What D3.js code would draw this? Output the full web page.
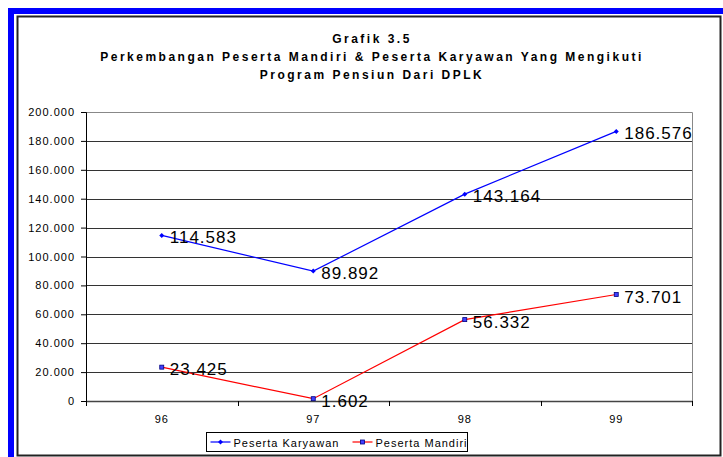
<!DOCTYPE html>
<html>
<head>
<meta charset="utf-8">
<script src="https://cdn.jsdelivr.net/npm/d3@7"></script>
<style>
  body { margin: 0; background: #fff; }
  text { font-family: "Liberation Sans", Arial, sans-serif; fill: #000; }
</style>
</head>
<body>
<div id="chart"></div>
<script>
// data
var years = ["96", "97", "98", "99"];
var karyawan = [114583, 89892, 143164, 186576];
var mandiri = [23425, 1602, 56332, 73701];
var yTicks = [0, 20000, 40000, 60000, 80000, 100000, 120000, 140000, 160000, 180000, 200000];
var titleLines = ["Grafik 3.5",
  "Perkembangan Peserta Mandiri & Peserta Karyawan Yang Mengikuti",
  "Program Pensiun Dari DPLK"];

var W = 723, H = 457;
var margin = {top: 112, right: 31, bottom: 56, left: 86};
var width = W - margin.left - margin.right;
var height = H - margin.top - margin.bottom;

var fmt = function(v) {
  if (v === 0) return "0";
  return d3.format(",.0f")(v).replace(/,/g, ".");
};

var svg = d3.select("#chart").append("svg")
  .attr("width", W)
  .attr("height", H);

// blue frame + chart border
svg.append("rect").attr("x", 8).attr("y", 8).attr("width", W - 8).attr("height", 6).attr("fill", "#0000ff");
svg.append("rect").attr("x", 8).attr("y", 8).attr("width", 6).attr("height", H - 8).attr("fill", "#0000ff");
svg.append("rect")
  .attr("x", 17.5).attr("y", 16.5)
  .attr("width", 703).attr("height", 439)
  .attr("fill", "none")
  .attr("stroke", "#222")
  .attr("stroke-width", 2);

// title
svg.append("g").selectAll("text")
  .data(titleLines)
  .enter()
  .append("text")
  .attr("x", 372)
  .attr("y", (d, i) => 43 + i * 18)
  .attr("text-anchor", "middle")
  .style("font-size", "12px")
  .style("font-weight", "bold")
  .style("letter-spacing", "2.5px")
  .text(d => d);

var chartGroup = svg.append("g")
  .attr("transform", `translate(${margin.left}, ${margin.top})`);

var xBand = d3.scaleBand()
  .domain(years)
  .range([0, width]);

var yLinearScale = d3.scaleLinear()
  .domain([0, 200000])
  .range([height, 0]);

var xc = d => xBand(d) + xBand.bandwidth() / 2;

// gridlines
chartGroup.append("g")
  .selectAll("line")
  .data(yTicks.slice(1))
  .enter()
  .append("line")
  .attr("x1", 0)
  .attr("x2", width)
  .attr("y1", d => Math.round(yLinearScale(d)) + 0.5)
  .attr("y2", d => Math.round(yLinearScale(d)) + 0.5)
  .attr("stroke", "#333")
  .attr("stroke-width", 1);

// plot border top/right
chartGroup.append("path")
  .attr("d", `M0,0.5H${width + 0.5}V${height}`)
  .attr("fill", "none")
  .attr("stroke", "#888");

// y axis
var leftAxis = d3.axisLeft(yLinearScale)
  .tickValues(yTicks)
  .tickSize(5)
  .tickPadding(6)
  .tickFormat(fmt);

var yAxis = chartGroup.append("g")
  .call(leftAxis);
yAxis.select(".domain").attr("stroke", "#000");
yAxis.selectAll("line").attr("stroke", "#000");
yAxis.selectAll("text")
  .style("font-size", "11px")
  .style("letter-spacing", "1px")
  .attr("font-family", null);

// x axis
var bottomAxis = d3.axisBottom(xBand)
  .tickSize(0)
  .tickPadding(14);

var xAxis = chartGroup.append("g")
  .attr("transform", `translate(0, ${height})`)
  .call(bottomAxis);
xAxis.select(".domain").attr("stroke", "#444").attr("stroke-width", 1.5);
xAxis.selectAll("text")
  .style("font-size", "11px")
  .style("letter-spacing", "1px")
  .attr("font-family", null);

// tick marks at category boundaries
xAxis.append("g")
  .selectAll("line")
  .data(years.concat(["end"]))
  .enter()
  .append("line")
  .attr("x1", (d, i) => Math.round(i * xBand.bandwidth()) + 0.5)
  .attr("x2", (d, i) => Math.round(i * xBand.bandwidth()) + 0.5)
  .attr("y1", 0)
  .attr("y2", 5)
  .attr("stroke", "#000");

// lines
var line = d3.line()
  .x((d, i) => xc(years[i]))
  .y(d => yLinearScale(d));

chartGroup.append("path")
  .datum(karyawan)
  .attr("d", line)
  .attr("fill", "none")
  .attr("stroke", "#0000ff")
  .attr("stroke-width", 1.2);

chartGroup.append("path")
  .datum(mandiri)
  .attr("d", line)
  .attr("fill", "none")
  .attr("stroke", "#ff0000")
  .attr("stroke-width", 1.2);

// markers
chartGroup.selectAll(".mk")
  .data(karyawan)
  .enter()
  .append("path")
  .attr("class", "mk")
  .attr("transform", (d, i) => `translate(${xc(years[i])}, ${yLinearScale(d)})`)
  .attr("d", "M0,-2.5L2.5,0L0,2.5L-2.5,0Z")
  .attr("fill", "#0000ff");

chartGroup.selectAll(".ms")
  .data(mandiri)
  .enter()
  .append("rect")
  .attr("class", "ms")
  .attr("x", (d, i) => xc(years[i]) - 2)
  .attr("y", d => yLinearScale(d) - 2)
  .attr("width", 4)
  .attr("height", 4)
  .attr("fill", "#4040ff")
  .attr("stroke", "#000080")
  .attr("stroke-width", 0.8);

// data labels
[karyawan, mandiri].forEach(function(series) {
  chartGroup.append("g")
    .selectAll("text")
    .data(series)
    .enter()
    .append("text")
    .attr("x", (d, i) => xc(years[i]) + 8)
    .attr("y", d => yLinearScale(d) + 8)
    .style("font-size", "17px")
    .style("letter-spacing", "1px")
    .text(d => fmt(d));
});

// legend
var legend = svg.append("g").attr("transform", "translate(206.5, 432.5)");
legend.append("rect")
  .attr("width", 261)
  .attr("height", 19)
  .attr("fill", "#fff")
  .attr("stroke", "#000");

var legendItems = [
  {name: "Peserta Karyawan", color: "#0000ff", x: 4},
  {name: "Peserta Mandiri", color: "#ff0000", x: 146}
];

var li = legend.selectAll(".li")
  .data(legendItems)
  .enter()
  .append("g")
  .attr("transform", d => `translate(${d.x}, 9.5)`);

li.append("line")
  .attr("x1", 0).attr("x2", 20)
  .attr("stroke", d => d.color)
  .attr("stroke-width", 1.2);

li.each(function(d, i) {
  var g = d3.select(this);
  if (i === 0) {
    g.append("path").attr("d", "M10,-2.5L12.5,0L10,2.5L7.5,0Z").attr("fill", "#0000ff");
  } else {
    g.append("rect").attr("x", 8).attr("y", -2).attr("width", 4).attr("height", 4)
      .attr("fill", "#4040ff").attr("stroke", "#000080").attr("stroke-width", 0.8);
  }
});

li.append("text")
  .attr("x", 23)
  .attr("y", 4.5)
  .style("font-size", "11px")
  .style("letter-spacing", "1px")
  .text(d => d.name);
</script>
</body>
</html>
